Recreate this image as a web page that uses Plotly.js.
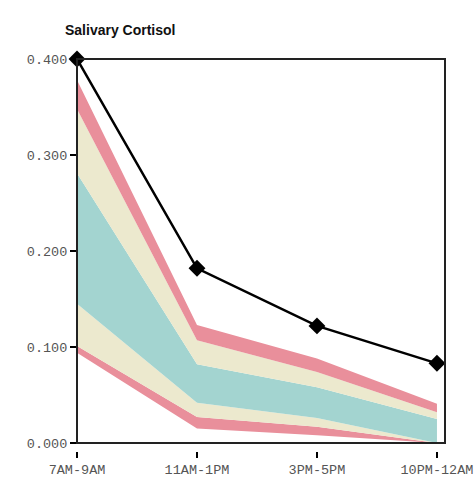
<!DOCTYPE html>
<html>
<head>
<meta charset="utf-8">
<script src="https://cdn.plot.ly/plotly-3.0.1.min.js"></script>
<style>html,body{margin:0;padding:0;background:#fff;}#chart{width:475px;height:492px;}</style>
</head>
<body>
<div id="chart"></div>
<script>
// Categories (time windows)
var categories = ["7AM-9AM", "11AM-1PM", "3PM-5PM", "10PM-12AM"];

// Measured salivary cortisol
var cortisol = [0.400, 0.182, 0.122, 0.083];

// Reference band boundaries (bottom to top)
var pinkLow   = [0.094, 0.015, 0.008, 0.000];
var yellowLow = [0.101, 0.027, 0.017, 0.000];
var tealLow   = [0.145, 0.042, 0.026, 0.000];
var tealHigh  = [0.281, 0.082, 0.058, 0.025];
var yellowHigh= [0.348, 0.107, 0.074, 0.032];
var pinkHigh  = [0.378, 0.123, 0.088, 0.041];

var yTicks = [0, 0.1, 0.2, 0.3, 0.4];

var xs = categories.map(function(c, i){ return i; });

var PINK = "rgb(233,143,155)";
var YELLOW = "rgb(236,233,206)";
var TEAL = "rgb(163,212,208)";

function band(y, fillcolor) {
  return {
    x: xs, y: y, type: "scatter", mode: "lines",
    line: {width: 0, color: fillcolor || "rgba(0,0,0,0)"},
    fill: fillcolor ? "tonexty" : "none",
    fillcolor: fillcolor, hoverinfo: "skip", showlegend: false
  };
}

var traces = [
  band(pinkLow, null),
  band(yellowLow, PINK),
  band(tealLow, YELLOW),
  band(tealHigh, TEAL),
  band(yellowHigh, YELLOW),
  band(pinkHigh, PINK),
  {
    x: xs, y: cortisol, type: "scatter", mode: "lines+markers",
    line: {color: "#000", width: 2.5},
    marker: {symbol: "diamond", size: 13, color: "#000"},
    cliponaxis: false, showlegend: false
  }
];

var layout = {
  width: 475, height: 492,
  margin: {l: 77, r: 30, t: 59, b: 41},
  paper_bgcolor: "#fff", plot_bgcolor: "#fff",
  showlegend: false,
  title: {
    text: "<b>Salivary Cortisol</b>",
    font: {family: "Liberation Sans, Arial, sans-serif", size: 14, color: "#111"},
    xref: "container", yref: "container",
    x: 65/475, xanchor: "left",
    y: 1 - 30/492, yanchor: "middle"
  },
  xaxis: {
    anchor: "free", position: 0,
    range: [0, 3.067],
    tickmode: "array", tickvals: xs, ticktext: categories,
    ticks: "outside", ticklen: 6, tickwidth: 2, tickcolor: "#000",
    showline: false, showgrid: false, zeroline: false,
    tickfont: {family: "Liberation Mono, Courier New, monospace", size: 13.5, color: "#555"}
  },
  yaxis: {
    domain: [8/392, 1],
    range: [0, 0.4],
    tickmode: "array", tickvals: yTicks,
    tickformat: ".3f",
    ticks: "outside", ticklen: 6, tickwidth: 2, tickcolor: "#000",
    showline: false, showgrid: false, zeroline: false,
    tickfont: {family: "Liberation Mono, Courier New, monospace", size: 13.5, color: "#555"}
  },
  shapes: [
    {type: "rect", xref: "x domain", yref: "y domain", x0: 0, x1: 1, y0: 0, y1: 1,
     line: {color: "#222", width: 2}, fillcolor: "rgba(0,0,0,0)", layer: "above"}
  ]
};

Plotly.newPlot("chart", traces, layout, {displayModeBar: false, staticPlot: true});
</script>
</body>
</html>
